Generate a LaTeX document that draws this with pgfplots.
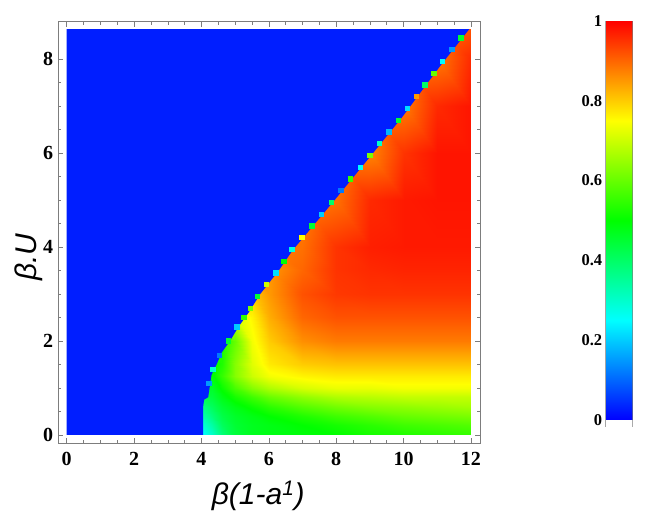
\documentclass[border=0pt]{standalone}
\usepackage{fontspec}
\setmainfont{Liberation Serif}
\newfontfamily\labelfont{Liberation Sans}
\usepackage{pgfplots}
\pgfplotsset{compat=1.18}

\definecolor{framegray}{RGB}{125,125,125}
\definecolor{bgblue}{RGB}{0,30,255}

\pgfplotsset{
  huemap/.style={colormap={hue}{rgb(0)=(0,0,1) rgb(1)=(0,1,1) rgb(2)=(0,1,0) rgb(3)=(1,1,0) rgb(4)=(1,0,0)},
    point meta min=0, point meta max=1},
}

\begin{document}
\begin{tikzpicture}
\useasboundingbox (0bp,0bp) rectangle (654bp,517bp);
\begin{axis}[
  at={(58.3bp,73.7bp)}, anchor=south west,
  scale only axis, width=421.7bp, height=421.6bp,
  xmin=-0.25, xmax=12.27, ymin=-0.18, ymax=8.79,
  huemap,
  xtick={0,2,...,12}, ytick={0,2,...,8},
  minor x tick num=3, minor y tick num=3,
  major tick length=5bp, minor tick length=3bp,
  tick align=inside,
  axis line style={framegray, line width=0.6pt},
  tick style={framegray, line width=0.5pt},
  /pgf/number format/assume math mode=true,
  ticklabel style={font=\fontsize{20bp}{23bp}\selectfont\bfseries},
  xticklabel style={yshift=-5.5bp},
  yticklabel style={xshift=-1.6bp},
  xlabel={\labelfont\itshape β(1-a\textsuperscript{1})},
  ylabel={\labelfont\itshape β.U},
  label style={font=\fontsize{30bp}{34bp}\selectfont},
  xlabel style={at={(axis description cs:0.474,-0.125)}, anchor=center},
  ylabel style={at={(axis description cs:-0.0695,0.442)}, anchor=center},
]
% value field on a coarse grid, x varies within each row
\addplot[surf, shader=interp, mesh/cols=12, point meta=\thisrow{c}] table {
x y c
4.0 0 0.24
4.3 0 0.30
4.6 0 0.38
5.0 0 0.44
5.5 0 0.47
6.0 0 0.48
7.0 0 0.49
8.0 0 0.50
9.0 0 0.52
10.0 0 0.53
11.0 0 0.54
12.0 0 0.55

4.0 0.2 0.28
4.3 0.2 0.34
4.6 0.2 0.41
5.0 0.2 0.45
5.5 0.2 0.47
6.0 0.2 0.48
7.0 0.2 0.50
8.0 0.2 0.52
9.0 0.2 0.54
10.0 0.2 0.56
11.0 0.2 0.57
12.0 0.2 0.58

4.0 0.4 0.32
4.3 0.4 0.38
4.6 0.4 0.43
5.0 0.4 0.46
5.5 0.4 0.48
6.0 0.4 0.50
7.0 0.4 0.53
8.0 0.4 0.56
9.0 0.4 0.58
10.0 0.4 0.60
11.0 0.4 0.61
12.0 0.4 0.62

4.0 0.6 0.36
4.3 0.6 0.41
4.6 0.6 0.45
5.0 0.6 0.48
5.5 0.6 0.51
6.0 0.6 0.54
7.0 0.6 0.58
8.0 0.6 0.61
9.0 0.6 0.63
10.0 0.6 0.64
11.0 0.6 0.65
12.0 0.6 0.66

4.0 0.8 0.42
4.3 0.8 0.44
4.6 0.8 0.48
5.0 0.8 0.52
5.5 0.8 0.56
6.0 0.8 0.60
7.0 0.8 0.64
8.0 0.8 0.67
9.0 0.8 0.68
10.0 0.8 0.69
11.0 0.8 0.69
12.0 0.8 0.69

4.0 1.0 0.46
4.3 1.0 0.46
4.6 1.0 0.51
5.0 1.0 0.57
5.5 1.0 0.63
6.0 1.0 0.67
7.0 1.0 0.71
8.0 1.0 0.73
9.0 1.0 0.73
10.0 1.0 0.74
11.0 1.0 0.74
12.0 1.0 0.74

4.0 1.25 0.48
4.3 1.25 0.49
4.6 1.25 0.55
5.0 1.25 0.63
5.5 1.25 0.70
6.0 1.25 0.74
7.0 1.25 0.76
8.0 1.25 0.77
9.0 1.25 0.77
10.0 1.25 0.77
11.0 1.25 0.77
12.0 1.25 0.77

4.0 1.5 0.49
4.3 1.5 0.49
4.6 1.5 0.53
5.0 1.5 0.63
5.5 1.5 0.72
6.0 1.5 0.77
7.0 1.5 0.80
8.0 1.5 0.81
9.0 1.5 0.81
10.0 1.5 0.81
11.0 1.5 0.81
12.0 1.5 0.81

4.0 2.0 0.52
4.3 2.0 0.52
4.6 2.0 0.52
5.0 2.0 0.60
5.5 2.0 0.74
6.0 2.0 0.80
7.0 2.0 0.86
8.0 2.0 0.88
9.0 2.0 0.88
10.0 2.0 0.88
11.0 2.0 0.88
12.0 2.0 0.88

4.0 2.5 0.70
4.3 2.5 0.70
4.6 2.5 0.70
5.0 2.5 0.70
5.5 2.5 0.76
6.0 2.5 0.83
7.0 2.5 0.90
8.0 2.5 0.92
9.0 2.5 0.92
10.0 2.5 0.92
11.0 2.5 0.92
12.0 2.5 0.92

4.0 3.0 0.80
4.3 3.0 0.80
4.6 3.0 0.80
5.0 3.0 0.80
5.5 3.0 0.80
6.0 3.0 0.85
7.0 3.0 0.92
8.0 3.0 0.945
9.0 3.0 0.95
10.0 3.0 0.95
11.0 3.0 0.95
12.0 3.0 0.95

4.0 3.5 0.85
4.3 3.5 0.85
4.6 3.5 0.85
5.0 3.5 0.85
5.5 3.5 0.85
6.0 3.5 0.85
7.0 3.5 0.90
8.0 3.5 0.95
9.0 3.5 0.96
10.0 3.5 0.965
11.0 3.5 0.965
12.0 3.5 0.965

4.0 4.0 0.87
4.3 4.0 0.87
4.6 4.0 0.87
5.0 4.0 0.87
5.5 4.0 0.87
6.0 4.0 0.87
7.0 4.0 0.89
8.0 4.0 0.95
9.0 4.0 0.97
10.0 4.0 0.975
11.0 4.0 0.975
12.0 4.0 0.975

4.0 5.0 0.87
4.3 5.0 0.87
4.6 5.0 0.87
5.0 5.0 0.87
5.5 5.0 0.87
6.0 5.0 0.87
7.0 5.0 0.87
8.0 5.0 0.89
9.0 5.0 0.96
10.0 5.0 0.975
11.0 5.0 0.98
12.0 5.0 0.98

4.0 6.0 0.87
4.3 6.0 0.87
4.6 6.0 0.87
5.0 6.0 0.87
5.5 6.0 0.87
6.0 6.0 0.87
7.0 6.0 0.87
8.0 6.0 0.87
9.0 6.0 0.87
10.0 6.0 0.95
11.0 6.0 0.98
12.0 6.0 0.98

4.0 7.0 0.87
4.3 7.0 0.87
4.6 7.0 0.87
5.0 7.0 0.87
5.5 7.0 0.87
6.0 7.0 0.87
7.0 7.0 0.87
8.0 7.0 0.87
9.0 7.0 0.87
10.0 7.0 0.88
11.0 7.0 0.96
12.0 7.0 0.98

4.0 8.0 0.87
4.3 8.0 0.87
4.6 8.0 0.87
5.0 8.0 0.87
5.5 8.0 0.87
6.0 8.0 0.87
7.0 8.0 0.87
8.0 8.0 0.87
9.0 8.0 0.87
10.0 8.0 0.87
11.0 8.0 0.88
12.0 8.0 0.96

4.0 8.63 0.88
4.3 8.63 0.88
4.6 8.63 0.88
5.0 8.63 0.88
5.5 8.63 0.88
6.0 8.63 0.88
7.0 8.63 0.88
8.0 8.63 0.88
9.0 8.63 0.88
10.0 8.63 0.88
11.0 8.63 0.88
12.0 8.63 0.92
};
% blue region above and left of the boundary
\addplot[fill=bgblue, draw=none] coordinates {
(0,0) (4.05,0) (4.05,0.6) (4.08,0.75) (4.2,0.8) (4.3,1.28) (4.45,1.5)
(4.6,1.75) (4.85,2.0) (5.1,2.3) (5.4,2.6) (5.75,3.0) (6.3,3.5) (6.72,3.94)
(6.97,4.15) (7.96,5.0) (9.1,6.0) (9.95,6.75) (11.08,7.84) (11.95,8.63)
(0,8.63)} -- cycle;
% single cells with in-between values along the edge
\addplot[scatter, only marks, mark=square*, mark size=2.2bp, point meta=explicit,
  scatter/use mapped color={draw=mapped color, fill=mapped color}]
  table[meta=c] {
x y c
4.22 1.10 0.15
4.33 1.40 0.30
4.52 1.70 0.12
4.80 2.00 0.45
5.05 2.30 0.20
5.25 2.50 0.55
5.44 2.70 0.62
5.66 2.95 0.45
5.92 3.20 0.70
6.20 3.45 0.22
6.44 3.70 0.50
6.68 3.95 0.28
6.98 4.20 0.75
7.27 4.45 0.45
7.56 4.70 0.20
7.85 4.95 0.40
8.14 5.20 0.12
8.42 5.45 0.55
8.71 5.70 0.25
8.99 5.95 0.62
9.28 6.20 0.30
9.56 6.45 0.18
9.84 6.70 0.45
10.11 6.95 0.22
10.37 7.20 0.85
10.63 7.45 0.40
10.89 7.70 0.60
11.15 7.95 0.25
11.43 8.20 0.15
11.70 8.45 0.45
};
\end{axis}

% colour legend
\begin{axis}[
  at={(605.7bp,90bp)}, anchor=south west,
  scale only axis, width=27bp, height=406bp,
  xmin=0, xmax=1, ymin=-0.0176, ymax=1,
  huemap,
  xtick=\empty,
  ytick={0,0.2,0.4,0.6,0.8,1},
  yticklabels={0,0.2,0.4,0.6,0.8,1},
  major tick length=0pt,
  axis line style={draw=none},
  /pgf/number format/assume math mode=true,
  ticklabel style={font=\fontsize{16.5bp}{19bp}\selectfont\bfseries},
]
\addplot[surf, shader=interp, mesh/cols=2, point meta=y] table {
x y
0 0
1 0

0 1
1 1
};
\draw[framegray, line width=0.6pt] (axis cs:1,1) -- (axis cs:1,-0.0176) -- (axis cs:0,-0.0176);
\draw[black, line width=0.8pt] (axis cs:0,-0.0176) -- (axis cs:0,1);
\end{axis}
\end{tikzpicture}
\end{document}
